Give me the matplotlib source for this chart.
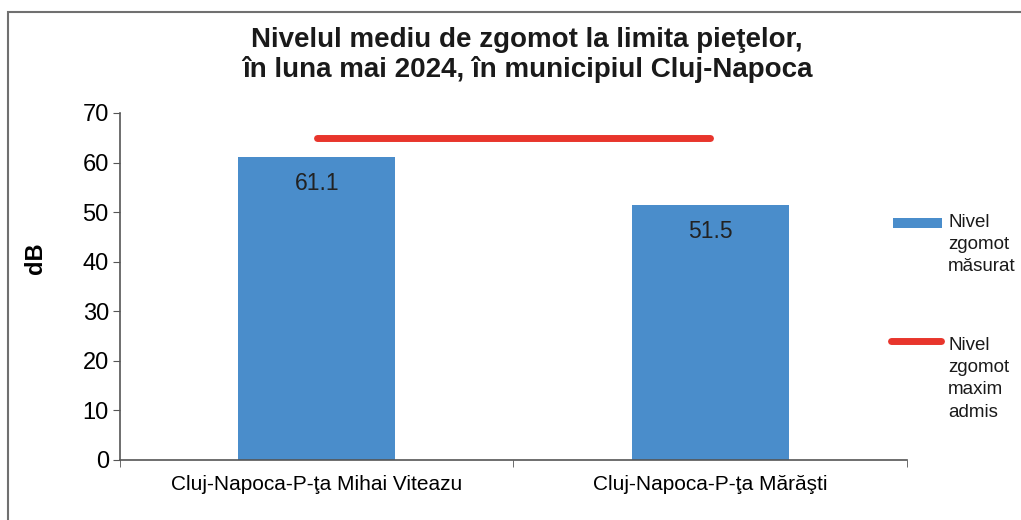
import matplotlib
matplotlib.use('Agg')
import matplotlib.pyplot as plt
from matplotlib.patches import Rectangle
from matplotlib.lines import Line2D

# Noise data for the two markets
markets = ['Cluj-Napoca-P-ţa Mihai Viteazu', 'Cluj-Napoca-P-ţa Mărăşti']
measured = [61.1, 51.5]
max_allowed = [65, 65]
legend_labels = ['Nivel\nzgomot\nmăsurat', 'Nivel\nzgomot\nmaxim\nadmis']

plt.rcParams['font.family'] = ['Liberation Sans', 'DejaVu Sans']

W, H = 1021, 520
blue = '#4a8dcb'
red = '#e8352c'

fig = plt.figure(figsize=(W / 100, H / 100), dpi=100)
ax = fig.add_axes([0.1175, 0.1154, 0.7708, 0.6673])


def fx(px):
    return px / W


def fy(py):
    return 1 - py / H


# outer frame (left and top edges visible)
fig.patches.append(Rectangle((fx(8), -0.05), 1.2, fy(12) + 0.05, transform=fig.transFigure,
                             fill=False, edgecolor='#707070', linewidth=1.5))

x = range(len(markets))
bars = ax.bar(x, measured, width=0.4, color=blue, zorder=2)
ax.plot(x, max_allowed, color=red, linewidth=5, solid_capstyle='round', zorder=3)

for b, v in zip(bars, measured):
    ax.annotate(f'{v}', (b.get_x() + b.get_width() / 2, v), xytext=(0, -11),
                textcoords='offset points', ha='center', va='top', fontsize=16.5, color='#222222')

ax.set_xlim(-0.5, 1.5)
ax.set_ylim(0, 70)
ax.set_yticks(range(0, 71, 10))
ax.set_xticks(x)
ax.set_xticklabels(markets, fontsize=15)
ax.set_xticks([-0.5, 0.5, 1.5], minor=True)
ax.tick_params(axis='x', which='major', length=0, pad=11)
ax.tick_params(axis='x', which='minor', length=5, color='#555555')
ax.tick_params(axis='y', labelsize=17, length=5, color='#555555', pad=3)

for s in ['top', 'right']:
    ax.spines[s].set_visible(False)
for s in ['left', 'bottom']:
    ax.spines[s].set_color('#555555')
    ax.spines[s].set_linewidth(1.2)

ax.set_ylabel('dB', fontsize=17, fontweight='bold')
ax.yaxis.set_label_coords(fx(47 - 120) / 0.7708, 0.582)

fig.text(fx(527), fy(27), 'Nivelul mediu de zgomot la limita pieţelor,\nîn luna mai 2024, în municipiul Cluj-Napoca',
         ha='center', va='top', fontsize=20, fontweight='bold', linespacing=1.15, color='#1a1a1a')

# legend: a swatch and a line, each with its wrapped label beside it
fig.patches.append(Rectangle((fx(893), fy(228)), fx(49), fy(218) - fy(228), transform=fig.transFigure,
                             facecolor=blue, edgecolor='none'))
fig.lines.append(Line2D([fx(891), fx(941)], [fy(341), fy(341)], transform=fig.transFigure,
                        color=red, linewidth=5, solid_capstyle='round'))
for label, top in zip(legend_labels, [214, 337]):
    fig.text(fx(948), fy(top), label, ha='left', va='top', fontsize=13.5,
             linespacing=1.4, color='#1a1a1a')

fig.savefig('out.png', dpi=100)
